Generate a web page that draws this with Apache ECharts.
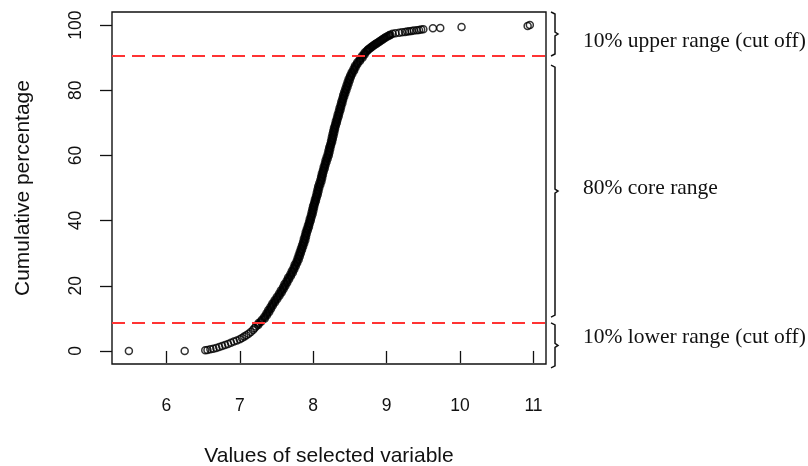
<!DOCTYPE html>
<html>
<head>
<meta charset="utf-8">
<script src="https://cdn.jsdelivr.net/npm/echarts@6/dist/echarts.min.js"></script>
<style>
html, body { margin: 0; padding: 0; background: #fff; }
#chart { width: 808px; height: 466px; }
</style>
</head>
<body>
<div id="chart"></div>
<script>
// tick labels
const xTicks = [6, 7, 8, 9, 10, 11];
const yTicks = [0, 20, 40, 60, 80, 100];

// cut off lines (cumulative %)
const cutoffs = [8.7, 90.5];

// points: [value, cumulative %]
const lowerTail = [
    [5.49, 0], [6.25, 0], [6.53, 0.2], [6.56, 0.3], [6.60, 0.5], [6.64, 0.7], [6.68, 0.9],
    [6.72, 1.2], [6.76, 1.5], [6.80, 1.8], [6.84, 2.1], [6.88, 2.5], [6.92, 2.9], [6.96, 3.2],
    [7.00, 3.6], [7.03, 4.0], [7.06, 4.4], [7.09, 4.8], [7.12, 5.3], [7.15, 5.8], [7.18, 6.4],
    [7.20, 7.0], [7.22, 7.5]
];
const coreBand = [
    [7.25, 8.0], [7.255, 8.5], [7.29, 9.0], [7.30, 9.5], [7.34, 10.0],
    [7.335, 10.5], [7.37, 11.0], [7.365, 11.5], [7.40, 12.0], [7.39, 12.5],
    [7.425, 13.0], [7.42, 13.5], [7.45, 14.0], [7.445, 14.5], [7.48, 15.0],
    [7.475, 15.5], [7.51, 16.0], [7.505, 16.5], [7.54, 17.0], [7.535, 17.5],
    [7.57, 18.0], [7.56, 18.5], [7.595, 19.0], [7.59, 19.5], [7.62, 20.0],
    [7.61, 20.5], [7.645, 21.0], [7.64, 21.5], [7.67, 22.0], [7.66, 22.5],
    [7.695, 23.0], [7.69, 23.5], [7.72, 24.0], [7.71, 24.5], [7.74, 25.0],
    [7.735, 25.5], [7.76, 26.0], [7.75, 26.5], [7.78, 27.0], [7.775, 27.5],
    [7.80, 28.0], [7.79, 28.5], [7.815, 29.0], [7.805, 29.5], [7.83, 30.0],
    [7.82, 30.5], [7.845, 31.0], [7.835, 31.5], [7.86, 32.0], [7.85, 32.5],
    [7.875, 33.0], [7.865, 33.5], [7.89, 34.0], [7.875, 34.5], [7.90, 35.0],
    [7.89, 35.5], [7.91, 36.0], [7.90, 36.5], [7.925, 37.0], [7.915, 37.5],
    [7.94, 38.0], [7.93, 38.5], [7.95, 39.0], [7.945, 39.5], [7.965, 40.0],
    [7.955, 40.5], [7.975, 41.0], [7.97, 41.5], [7.99, 42.0], [7.98, 42.5],
    [8.00, 43.0], [7.99, 43.5], [8.01, 44.0], [8.00, 44.5], [8.02, 45.0],
    [8.015, 45.5], [8.035, 46.0], [8.025, 46.5], [8.045, 47.0], [8.04, 47.5],
    [8.06, 48.0], [8.05, 48.5], [8.07, 49.0], [8.06, 49.5], [8.08, 50.0],
    [8.07, 50.5], [8.095, 51.0], [8.085, 51.5], [8.11, 52.0], [8.10, 52.5],
    [8.12, 53.0], [8.11, 53.5], [8.13, 54.0], [8.12, 54.5], [8.14, 55.0],
    [8.135, 55.5], [8.155, 56.0], [8.145, 56.5], [8.165, 57.0], [8.16, 57.5],
    [8.18, 58.0], [8.17, 58.5], [8.195, 59.0], [8.185, 59.5], [8.21, 60.0],
    [8.20, 60.5], [8.22, 61.0], [8.21, 61.5], [8.23, 62.0], [8.22, 62.5],
    [8.24, 63.0], [8.235, 63.5], [8.255, 64.0], [8.245, 64.5], [8.265, 65.0],
    [8.255, 65.5], [8.275, 66.0], [8.265, 66.5], [8.285, 67.0], [8.275, 67.5],
    [8.295, 68.0], [8.285, 68.5], [8.305, 69.0], [8.30, 69.5], [8.32, 70.0],
    [8.31, 70.5], [8.33, 71.0], [8.325, 71.5], [8.345, 72.0], [8.335, 72.5],
    [8.355, 73.0], [8.35, 73.5], [8.37, 74.0], [8.36, 74.5], [8.38, 75.0],
    [8.375, 75.5], [8.395, 76.0], [8.385, 76.5], [8.405, 77.0], [8.40, 77.5],
    [8.42, 78.0], [8.41, 78.5], [8.435, 79.0], [8.425, 79.5], [8.45, 80.0],
    [8.44, 80.5], [8.465, 81.0], [8.455, 81.5], [8.48, 82.0], [8.47, 82.5],
    [8.495, 83.0], [8.485, 83.5], [8.51, 84.0], [8.505, 84.5], [8.53, 85.0],
    [8.525, 85.5], [8.555, 86.0], [8.55, 86.5], [8.575, 87.0], [8.57, 87.5],
    [8.60, 88.0], [8.60, 88.5], [8.635, 89.0], [8.635, 89.5], [8.67, 90.0],
    [8.665, 90.5], [8.70, 91.0], [8.70, 91.5], [8.73, 92.0]
];
const upperBand = [
    [8.74, 92.3], [8.755, 92.6], [8.775, 92.9], [8.79, 93.2], [8.81, 93.5], [8.825, 93.8],
    [8.845, 94.1], [8.865, 94.4], [8.885, 94.7], [8.905, 95.0], [8.925, 95.3], [8.945, 95.6],
    [8.965, 95.9], [8.985, 96.2], [9.01, 96.5], [9.035, 96.8], [9.05, 97.0]
];
const upperTail = [
    [9.08, 97.3], [9.12, 97.5], [9.17, 97.6], [9.21, 97.8], [9.25, 97.9], [9.28, 98.0],
    [9.31, 98.1], [9.34, 98.2], [9.37, 98.3], [9.41, 98.4], [9.44, 98.5], [9.47, 98.6],
    [9.50, 98.7], [9.63, 99.0], [9.73, 99.1], [10.02, 99.4], [10.92, 99.7], [10.95, 100]
];

// right hand annotations: [from %, to %, label y %, text]
const braceRanges = [
    [90.5, 104, 95.0, '10% upper range (cut off)'],
    [10.4, 87.7, 50.0, '80% core range'],
    [-5.2, 8.6, 4.3, '10% lower range (cut off)']
];

const sans = '"Liberation Sans", Arial, sans-serif';
const serif = '"Liberation Serif", "Times New Roman", serif';

const chart = echarts.init(document.getElementById('chart'));

chart.setOption({
    animation: false,
    backgroundColor: '#fff',
    grid: {
        left: 112, top: 12, right: 262, bottom: 102,
        outerBoundsMode: 'none',
        containLabel: false,
        show: true,
        borderColor: '#111',
        borderWidth: 1.4,
        backgroundColor: 'transparent'
    },
    xAxis: {
        type: 'value',
        min: 5.26,
        max: 11.17,
        name: 'Values of selected variable',
        nameLocation: 'middle',
        nameGap: 82,
        nameTextStyle: {fontFamily: sans, fontSize: 21, color: '#111'},
        axisLine: {show: false},
        axisTick: {show: true, inside: false, length: 12, customValues: xTicks, lineStyle: {color: '#111', width: 1.3}},
        axisLabel: {customValues: xTicks, margin: 33, fontFamily: sans, fontSize: 17.5, color: '#111'},
        splitLine: {show: false}
    },
    yAxis: {
        type: 'value',
        min: -4,
        max: 104,
        name: 'Cumulative percentage',
        nameLocation: 'middle',
        nameGap: 78,
        nameTextStyle: {fontFamily: sans, fontSize: 21, color: '#111'},
        axisLine: {show: false},
        axisTick: {show: true, inside: false, length: 12, customValues: yTicks, lineStyle: {color: '#111', width: 1.3}},
        axisLabel: {customValues: yTicks, rotate: 90, margin: 27, fontFamily: sans, fontSize: 17.5, color: '#111'},
        splitLine: {show: false}
    },
    series: [{
        // sparse tails: open circles
        type: 'scatter',
        symbol: 'circle',
        symbolSize: 7,
        itemStyle: {color: 'rgba(0,0,0,0)', borderColor: '#000', borderWidth: 1.5},
        data: lowerTail.concat(upperTail),
        markLine: {
            silent: true,
            symbol: 'none',
            label: {show: false},
            lineStyle: {color: '#ff3333', width: 2, type: [13, 7]},
            data: cutoffs.map(v => ({yAxis: v}))
        }
    }, {
        // dense core: overlapping circles that read as a solid band
        type: 'scatter',
        symbol: 'circle',
        symbolSize: 6.4,
        itemStyle: {color: 'rgba(0,0,0,0)', borderColor: '#000', borderWidth: 2.4},
        data: coreBand.concat(upperBand)
    }]
});

// braces and texts on the right, placed through the axis scale
const right = chart.convertToPixel({xAxisIndex: 0}, 11.17);
const toY = v => chart.convertToPixel({yAxisIndex: 0}, v);
const graphics = [];
braceRanges.forEach(([lo, hi, labelY, text]) => {
    let yTop = toY(hi), yBot = toY(lo);
    let yMid = (yTop + yBot) / 2;
    let x = right + 9;
    graphics.push({
        type: 'polyline',
        shape: {
            points: [
                [x - 4, yTop], [x, yTop + 2], [x, yMid - 2], [x + 3, yMid],
                [x, yMid + 2], [x, yBot - 2], [x - 4, yBot]
            ]
        },
        style: {stroke: '#111', lineWidth: 1.5, fill: null}
    });
    graphics.push({
        type: 'text',
        x: right + 37,
        y: toY(labelY),
        style: {
            text: text,
            font: '21.5px ' + serif,
            fill: '#111',
            verticalAlign: 'middle',
            align: 'left'
        }
    });
});
chart.setOption({graphic: graphics});
</script>
</body>
</html>
